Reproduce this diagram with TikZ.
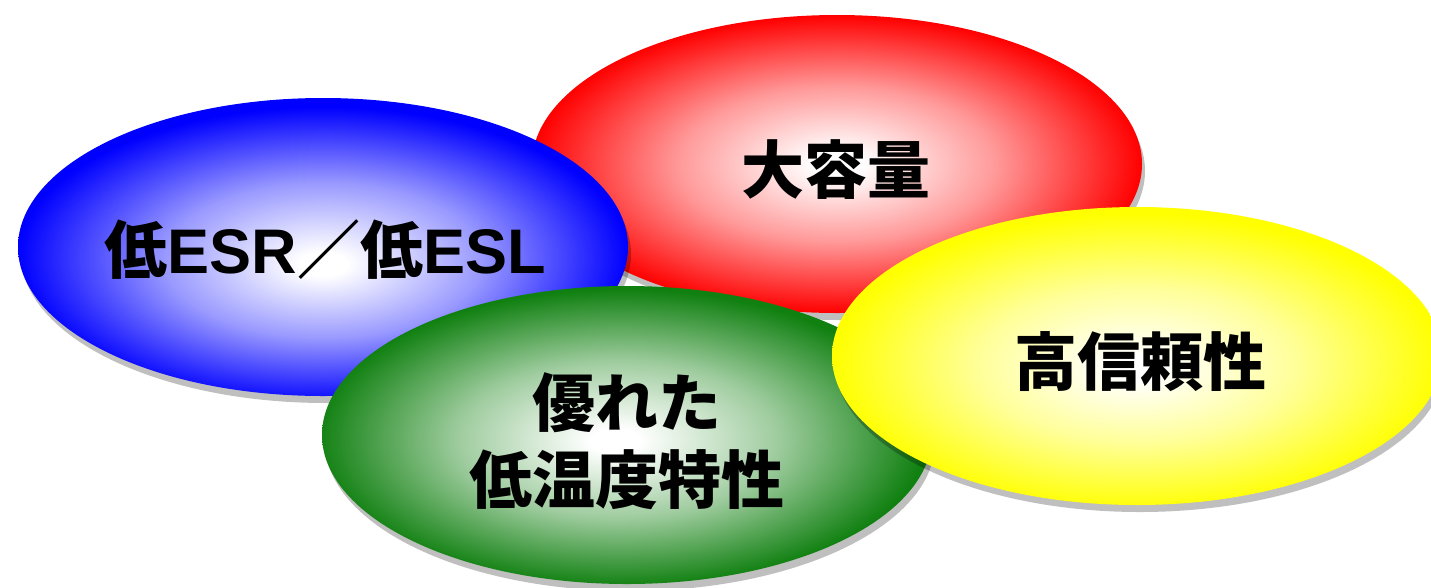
\documentclass[tikz,border=0pt]{standalone}
\usepackage{fontspec}
\setmainfont{Liberation Sans}
\newfontfamily\cjk{Noto Sans CJK JP}
\usetikzlibrary{shapes.geometric,shadows}
\definecolor{bubblered}{RGB}{255,0,0}
\definecolor{bubbleblue}{RGB}{0,0,255}
\definecolor{bubblegreen}{RGB}{16,128,16}
\definecolor{bubbleyellow}{RGB}{255,255,0}
\pgfdeclareradialshading{redball}{\pgfpoint{0bp}{0bp}}{color(0bp)=(white); color(2bp)=(white); color(13bp)=(bubblered!40!white); color(25bp)=(bubblered); color(50bp)=(bubblered)}
\pgfdeclareradialshading{blueball}{\pgfpoint{0bp}{-3bp}}{color(0bp)=(white); color(2bp)=(white); color(13bp)=(bubbleblue!40!white); color(25bp)=(bubbleblue); color(50bp)=(bubbleblue)}
\pgfdeclareradialshading{greenball}{\pgfpoint{-1bp}{-1bp}}{color(0bp)=(white); color(2bp)=(white); color(13bp)=(bubblegreen!40!white); color(25bp)=(bubblegreen); color(50bp)=(bubblegreen)}
\pgfdeclareradialshading{yellowball}{\pgfpoint{0bp}{-2bp}}{color(0bp)=(white); color(2bp)=(white); color(13bp)=(bubbleyellow!40!white); color(25bp)=(bubbleyellow); color(50bp)=(bubbleyellow)}
\tikzset{
  bubble/.style={ellipse, draw=none, inner sep=0pt, minimum width=610pt, minimum height=298pt,
    drop shadow={shadow xshift=3pt, shadow yshift=-7pt, fill=black, opacity=0.25}},
  label/.style={font=\bfseries\fontsize{63}{77}\selectfont, align=center, text=black, inner sep=0pt}
}
\begin{document}
\begin{tikzpicture}[x=1pt,y=-1pt]
\useasboundingbox (0,0) rectangle (1431,587);
\fill[white] (0,0) rectangle (1431,587);
\node[bubble, shading=redball] (red) at (837,164) {};
\node[bubble, shading=blueball] (blue) at (323,247) {};
\node[bubble, shading=greenball] (green) at (627,435) {};
\node[bubble, shading=yellowball] (yellow) at (1137,356) {};
\node[label] (redtxt) at (836,170) {\cjk 大容量};
\node[label] (bluetxt) at (325,250) {{\cjk 低}ESR{\cjk ／低}ESL};
\node[label] (greentxt) at (627,441) {\cjk 優れた\\\cjk 低温度特性};
\node[label] (yellowtxt) at (1140,362) {\cjk 高信頼性};
\end{tikzpicture}
\end{document}
